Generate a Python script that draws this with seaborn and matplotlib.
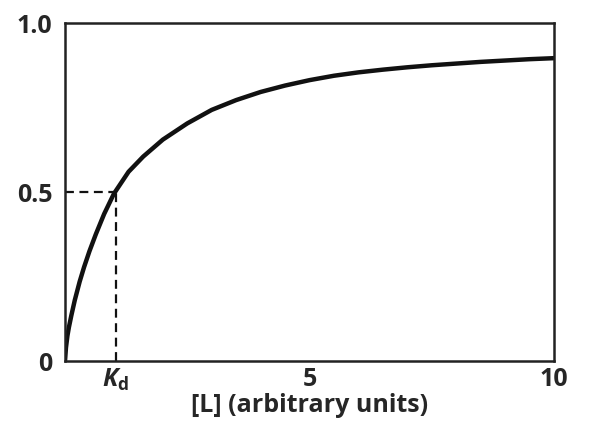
import numpy as np
import pandas as pd
import matplotlib.pyplot as plt
import seaborn as sns

# binding curve
conc = [0, 0.02, 0.05, 0.08, 0.13, 0.2, 0.3, 0.39, 0.5, 0.63, 0.8, 1.0, 1.3, 1.6,
        2.0, 2.5, 3.0, 3.5, 4.0, 4.5, 5.0, 5.5, 6.0, 6.5, 7.0, 7.5, 8.0, 8.5,
        9.0, 9.5, 10.0]
theta = [0, 0.04, 0.075, 0.1, 0.135, 0.18, 0.235, 0.278, 0.325, 0.375, 0.435, 0.495,
         0.56, 0.605, 0.655, 0.703, 0.743, 0.772, 0.796, 0.815, 0.831, 0.844, 0.854,
         0.862, 0.869, 0.875, 0.880, 0.885, 0.889, 0.893, 0.896]
kd = 1.04
half = 0.5
x_ticks = [kd, 5, 10]
x_ticklabels = [r'$\mathbfit{K}_\mathbf{d}$', '5', '10']
y_ticks = [0, 0.5, 1.0]
y_ticklabels = ['0', '0.5', '1.0']


def main():
    sns.set_theme(style='white')
    plt.rcParams['font.family'] = ['Open Sans', 'DejaVu Sans']
    plt.rcParams['mathtext.fontset'] = 'custom'
    plt.rcParams['mathtext.bf'] = 'Open Sans:bold'
    plt.rcParams['mathtext.bfit'] = 'Open Sans:italic:bold'
    plt.rcParams['mathtext.it'] = 'Open Sans:italic:bold'

    df = pd.DataFrame({'L': conc, 'theta': theta})

    fig = plt.figure(figsize=(5.99, 4.34), dpi=100)
    ax = fig.add_axes([0.1085, 0.168, 0.8165, 0.779])
    sns.lineplot(data=df, x='L', y='theta', color='#111111', lw=3.2, ax=ax)

    ax.plot([0, kd], [half, half], ls=(0, (4, 2.5)), color='#111111', lw=1.6)
    ax.plot([kd, kd], [0, half], ls=(0, (4, 2.5)), color='#111111', lw=1.6)

    ax.set_xlim(0, 10)
    ax.set_ylim(0, 1)
    ax.set_xticks(x_ticks)
    ax.set_xticklabels(x_ticklabels, fontsize=18, fontweight='bold')
    ax.set_yticks(y_ticks)
    ax.set_yticklabels(y_ticklabels, fontsize=18, fontweight='bold')
    ax.tick_params(axis='x', direction='in', length=5, width=1.5, color='#222222', pad=4)
    ax.tick_params(axis='y', length=0, pad=9)
    ax.get_xticklines()[0].set_visible(False)
    ax.get_xticklines()[1].set_visible(False)
    for s in ax.spines.values():
        s.set_linewidth(1.8)
        s.set_color('#222222')
    ax.set_xlabel('[L] (arbitrary units)', fontsize=18, fontweight='bold', labelpad=0)
    ax.set_ylabel('')

    plt.savefig('out.png')
    plt.close()


if __name__ == "__main__":
    main()
